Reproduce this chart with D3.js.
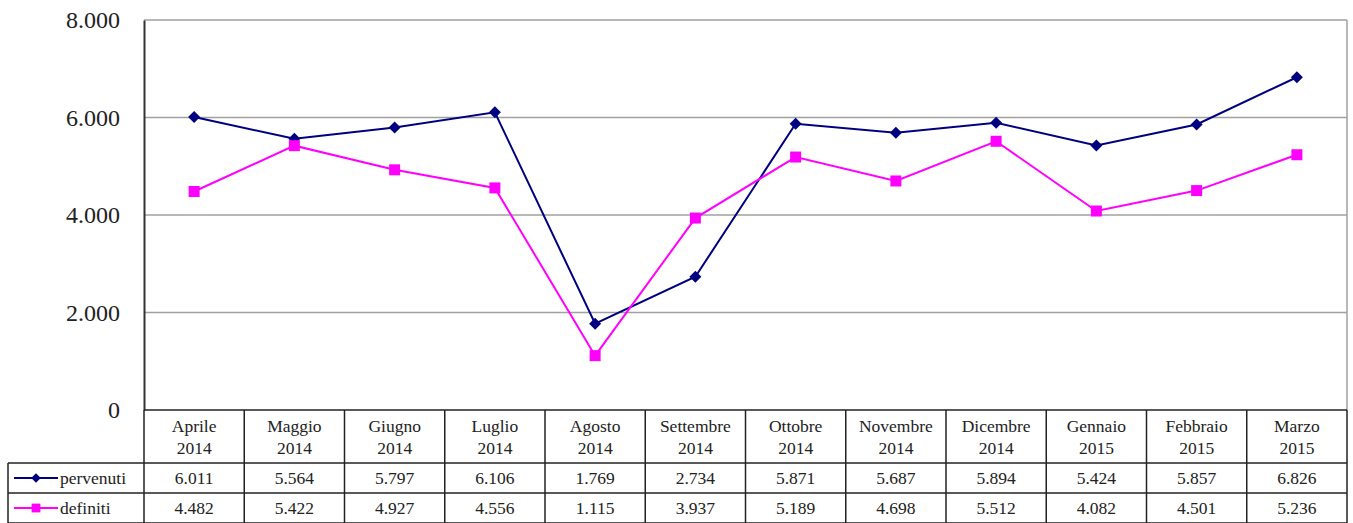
<!DOCTYPE html>
<html>
<head>
<meta charset="utf-8">
<script src="https://cdn.jsdelivr.net/npm/d3@7"></script>
<style>
  body { margin: 0; background: #fff; }
  svg { display: block; }
</style>
</head>
<body>
<svg width="1353" height="523"></svg>
<script>
// data
let months = ["Aprile", "Maggio", "Giugno", "Luglio", "Agosto", "Settembre",
	"Ottobre", "Novembre", "Dicembre", "Gennaio", "Febbraio", "Marzo"];
let years = ["2014", "2014", "2014", "2014", "2014", "2014",
	"2014", "2014", "2014", "2015", "2015", "2015"];
let pervenuti = [6011, 5564, 5797, 6106, 1769, 2734, 5871, 5687, 5894, 5424, 5857, 6826];
let definiti = [4482, 5422, 4927, 4556, 1115, 3937, 5189, 4698, 5512, 4082, 4501, 5236];
let y_ticks = [0, 2000, 4000, 6000, 8000];

let series = [
	{ name: "pervenuti", values: pervenuti, color: "#000080", marker: "diamond" },
	{ name: "definiti", values: definiti, color: "#ff00ff", marker: "square" }
];

let serif = "'Liberation Serif', 'DejaVu Serif', serif";

let locale = d3.formatLocale({ decimal: ",", thousands: ".", grouping: [3], currency: ["", " €"] });
let fmt = locale.format(",d");

let svg = d3.select("svg");

let plot = { left: 144, right: 1347, top: 20, bottom: 410 };
let table = { left: 8, header_bottom: 463, row_h: 30 };

let x = d3.scaleBand()
	.domain(months.map(function(d, i) { return i; }))
	.range([plot.left, plot.right]);

let y = d3.scaleLinear()
	.domain([0, 8000])
	.range([plot.bottom, plot.top]);

// gridlines (incl. top border)
svg.append("g")
	.selectAll("line")
	.data(y_ticks.filter(function(d) { return d > 0; }))
	.enter()
	.append("line")
	.attr("x1", plot.left)
	.attr("x2", plot.right)
	.attr("y1", function(d) { return y(d); })
	.attr("y2", function(d) { return y(d); })
	.attr("stroke", "#a0a0a0")
	.attr("stroke-width", 1.5);

// right border of plot area
svg.append("line")
	.attr("x1", plot.right).attr("x2", plot.right)
	.attr("y1", plot.top).attr("y2", plot.bottom)
	.attr("stroke", "#a0a0a0")
	.attr("stroke-width", 1.5);

// y axis
let y_axis = svg.append("g")
	.attr("transform", "translate(" + plot.left + ",0)")
	.call(d3.axisLeft(y).tickValues(y_ticks).tickFormat(fmt).tickSize(0).tickPadding(24));

y_axis.select(".domain")
	.attr("stroke", "#333")
	.attr("stroke-width", 2);

y_axis.selectAll("text")
	.style("font-family", serif)
	.style("font-size", "24px")
	.attr("fill", "#222");

// lines and markers
let line_generator = d3.line()
	.x(function(d, i) { return x(i) + x.bandwidth() / 2; })
	.y(function(d) { return y(d); });

function marker_path(kind) {
	if (kind === "diamond") return "M0,-6 L6,0 L0,6 L-6,0 Z";
	return "M-5.5,-5.5 L5.5,-5.5 L5.5,5.5 L-5.5,5.5 Z";
}

series.forEach(function(s) {
	svg.append("path")
		.attr("d", line_generator(s.values))
		.attr("fill", "none")
		.attr("stroke", s.color)
		.attr("stroke-width", 2);

	svg.append("g")
		.selectAll("path")
		.data(s.values)
		.enter()
		.append("path")
		.attr("d", marker_path(s.marker))
		.attr("transform", function(d, i) {
			return "translate(" + (x(i) + x.bandwidth() / 2) + "," + y(d) + ")";
		})
		.attr("fill", s.color);
});

// data table
let tg = svg.append("g")
	.style("font-family", serif)
	.attr("fill", "#222");
let table_bottom = table.header_bottom + table.row_h * series.length;

tg.append("line")
	.attr("x1", plot.left).attr("x2", plot.right)
	.attr("y1", plot.bottom).attr("y2", plot.bottom)
	.attr("stroke", "#222").attr("stroke-width", 1.5);

tg.selectAll(".hrow")
	.data(d3.range(series.length + 1))
	.enter()
	.append("line")
	.attr("class", "hrow")
	.attr("x1", table.left).attr("x2", plot.right)
	.attr("y1", function(d) { return table.header_bottom + d * table.row_h; })
	.attr("y2", function(d) { return table.header_bottom + d * table.row_h; })
	.attr("stroke", "#222").attr("stroke-width", 1.5);

let col_edges = months.map(function(d, i) { return x(i); }).concat([plot.right]);
tg.selectAll(".vcol")
	.data(col_edges)
	.enter()
	.append("line")
	.attr("class", "vcol")
	.attr("x1", function(d) { return d; })
	.attr("x2", function(d) { return d; })
	.attr("y1", plot.bottom)
	.attr("y2", table_bottom)
	.attr("stroke", "#222").attr("stroke-width", 1.5);

tg.append("line")
	.attr("x1", table.left).attr("x2", table.left)
	.attr("y1", table.header_bottom).attr("y2", table_bottom)
	.attr("stroke", "#222").attr("stroke-width", 1.5);

// header labels
let header = tg.selectAll(".head")
	.data(months)
	.enter()
	.append("text")
	.attr("class", "head")
	.attr("text-anchor", "middle")
	.style("font-family", serif)
	.style("font-size", "17.5px");

header.append("tspan")
	.attr("x", function(d, i) { return x(i) + x.bandwidth() / 2; })
	.attr("y", 432)
	.text(function(d) { return d; });

header.append("tspan")
	.attr("x", function(d, i) { return x(i) + x.bandwidth() / 2; })
	.attr("y", 454)
	.text(function(d, i) { return years[i]; });

// value rows
series.forEach(function(s, r) {
	let row_mid = table.header_bottom + r * table.row_h + table.row_h / 2;

	tg.append("g")
		.selectAll("text")
		.data(s.values)
		.enter()
		.append("text")
		.attr("x", function(d, i) { return x(i) + x.bandwidth() / 2; })
		.attr("y", row_mid + 6)
		.attr("text-anchor", "middle")
		.style("font-family", serif)
		.style("font-size", "17.5px")
		.text(function(d) { return fmt(d); });

	// legend key
	tg.append("line")
		.attr("x1", 14).attr("x2", 58)
		.attr("y1", row_mid).attr("y2", row_mid)
		.attr("stroke", s.color).attr("stroke-width", 2);
	tg.append("path")
		.attr("d", marker_path(s.marker))
		.attr("transform", "translate(36," + row_mid + ") scale(0.8)")
		.attr("fill", s.color);
	tg.append("text")
		.attr("x", 60)
		.attr("y", row_mid + 6)
		.style("font-family", serif)
		.style("font-size", "17.5px")
		.text(s.name);
});
</script>
</body>
</html>
